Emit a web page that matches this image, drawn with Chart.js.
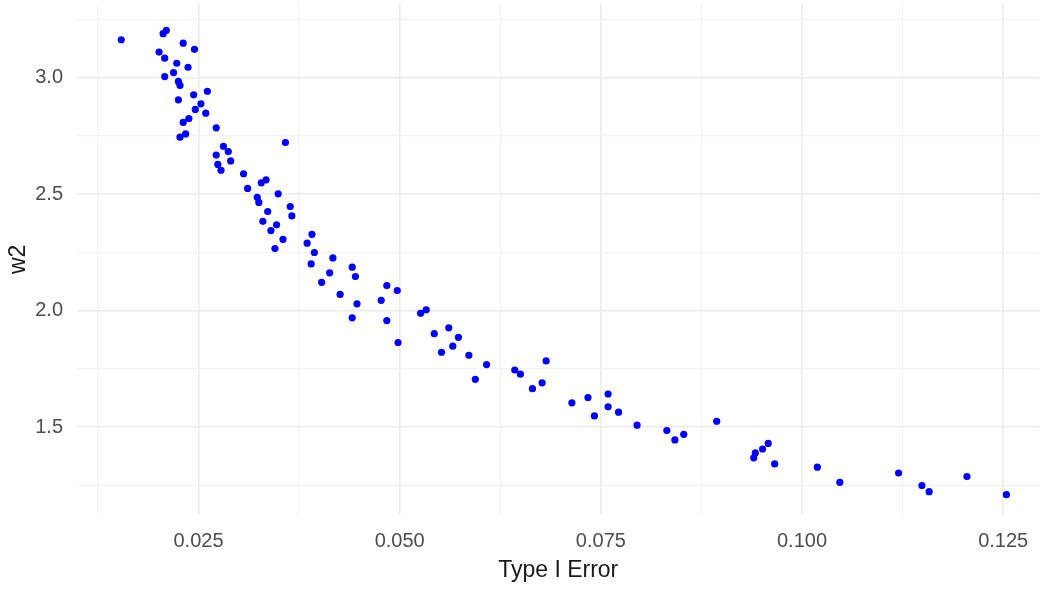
<!DOCTYPE html>
<html>
<head>
<meta charset="utf-8">
<script src="https://cdn.jsdelivr.net/npm/chart.js@4/dist/chart.umd.min.js"></script>
<style>
  html, body { margin: 0; padding: 0; background: #ffffff; }
  #wrap { width: 1043px; height: 589px; }
</style>
</head>
<body>
<div id="wrap"><canvas id="myChart" width="1043" height="589"></canvas></div>
<script>
// values
const typeIError = [
  0.0154, 0.0206, 0.0210, 0.0231, 0.0245, 0.0201, 0.0208, 0.0223, 0.0237, 0.0219,
  0.0208, 0.0225, 0.0227, 0.0261, 0.0244, 0.0225, 0.0253, 0.0246, 0.0259, 0.0238,
  0.0231, 0.0272, 0.0234, 0.0227, 0.0358, 0.0281, 0.0287, 0.0272, 0.0290, 0.0274,
  0.0278, 0.0306,
  0.0328, 0.0334, 0.0311, 0.0349, 0.0323, 0.0325, 0.0364, 0.0336, 0.0366, 0.0330,
  0.0347, 0.0340, 0.0391, 0.0355, 0.0385, 0.0345, 0.0394, 0.0417, 0.0390, 0.0441,
  0.0413, 0.0445, 0.0403, 0.0484, 0.0497, 0.0426, 0.0477, 0.0447, 0.0441, 0.0484,
  0.0498, 0.0526, 0.0533, 0.0543, 0.0561, 0.0573, 0.0566, 0.0552, 0.0586, 0.0608,
  0.0594, 0.0643, 0.0650, 0.0682, 0.0677, 0.0665, 0.0714, 0.0734, 0.0742, 0.0759,
  0.0759, 0.0772, 0.0795, 0.0832, 0.0842,
  0.0853, 0.0894, 0.0940, 0.0942, 0.0951, 0.0958, 0.0966, 0.1019, 0.1047, 0.1120,
  0.1149, 0.1158, 0.1205, 0.1254
];
const w2 = [
  3.162, 3.188, 3.202, 3.147, 3.121, 3.109, 3.083, 3.061, 3.044, 3.021,
  3.004, 2.983, 2.966, 2.941, 2.926, 2.904, 2.887, 2.863, 2.847, 2.824,
  2.807, 2.784, 2.758, 2.744, 2.721, 2.705, 2.682, 2.667, 2.642, 2.627,
  2.602, 2.587,
  2.548, 2.561, 2.524, 2.501, 2.486, 2.464, 2.446, 2.425, 2.406, 2.383,
  2.368, 2.343, 2.327, 2.305, 2.289, 2.266, 2.249, 2.226, 2.200, 2.186,
  2.162, 2.146, 2.121, 2.107, 2.086, 2.069, 2.044, 2.029, 1.969, 1.957,
  1.863, 1.988, 2.003, 1.901, 1.926, 1.885, 1.847, 1.821, 1.808, 1.768,
  1.705, 1.745, 1.727, 1.784, 1.690, 1.665, 1.604, 1.627, 1.548, 1.642,
  1.587, 1.564, 1.508, 1.485, 1.445,
  1.469, 1.525, 1.368, 1.389, 1.406, 1.430, 1.342, 1.328, 1.263, 1.303,
  1.249, 1.223, 1.288, 1.210
];

// ticks
const xMajor = [0.025, 0.05, 0.075, 0.1, 0.125];
const xMajorLabels = ['0.025', '0.050', '0.075', '0.100', '0.125'];
const xMinor = [0.0125, 0.0375, 0.0625, 0.0875, 0.1125];
const yMajor = [1.5, 2.0, 2.5, 3.0];
const yMajorLabels = ['1.5', '2.0', '2.5', '3.0'];
const yMinor = [1.25, 1.75, 2.25, 2.75, 3.25];

const FONT = '"Liberation Sans", Arial, sans-serif';

function findIdx(list, v) {
    return list.findIndex(m => Math.abs(m - v) < 1e-9);
}

const points = typeIError.map((x, i) => ({ x: x, y: w2[i] }));

const ctx = document.getElementById('myChart').getContext('2d');
const chart = new Chart(ctx, {
    type: 'scatter',
    data: {
        datasets: [{
            label: 'w2',
            data: points,
            backgroundColor: '#0000ff',
            borderWidth: 0,
            pointRadius: 3.6,
            pointHoverRadius: 3.6
        }]
    },
    options: {
        responsive: false,
        animation: false,
        events: [],
        layout: { padding: 0 },
        plugins: {
            legend: { display: false },
            tooltip: { enabled: false }
        },
        scales: {
            x: {
                type: 'linear',
                min: 0.0099,
                max: 0.1295,
                border: { display: false },
                afterBuildTicks: (scale) => {
                    scale.ticks = xMinor.concat(xMajor).sort((a, b) => a - b).map(v => ({ value: v }));
                },
                afterFit: (scale) => {
                    scale.height = 74;
                    scale.paddingLeft = 0;
                    scale.paddingRight = 0;
                },
                grid: {
                    drawTicks: false,
                    color: (c) => findIdx(xMajor, c.tick.value) >= 0 ? '#ebebeb' : '#f2f2f2',
                    lineWidth: (c) => findIdx(xMajor, c.tick.value) >= 0 ? 1.6 : 1.2
                },
                ticks: {
                    autoSkip: false,
                    maxRotation: 0,
                    padding: 14,
                    color: '#4d4d4d',
                    font: { family: FONT, size: 20 },
                    callback: (value) => {
                        const i = findIdx(xMajor, value);
                        return i >= 0 ? xMajorLabels[i] : '';
                    }
                },
                title: {
                    display: true,
                    text: 'Type I Error',
                    color: '#1a1a1a',
                    font: { family: FONT, size: 23 },
                    padding: { top: 0, bottom: 5 }
                }
            },
            y: {
                type: 'linear',
                min: 1.1228,
                max: 3.317,
                border: { display: false },
                afterBuildTicks: (scale) => {
                    scale.ticks = yMinor.concat(yMajor).sort((a, b) => a - b).map(v => ({ value: v }));
                },
                afterFit: (scale) => {
                    scale.width = 77;
                    scale.paddingTop = 0;
                    scale.paddingBottom = 0;
                },
                grid: {
                    drawTicks: false,
                    color: (c) => findIdx(yMajor, c.tick.value) >= 0 ? '#ebebeb' : '#f2f2f2',
                    lineWidth: (c) => findIdx(yMajor, c.tick.value) >= 0 ? 1.6 : 1.2
                },
                ticks: {
                    autoSkip: false,
                    padding: 14,
                    color: '#4d4d4d',
                    font: { family: FONT, size: 20 },
                    callback: (value) => {
                        const i = findIdx(yMajor, value);
                        return i >= 0 ? yMajorLabels[i] : '';
                    }
                },
                title: {
                    display: true,
                    text: 'w2',
                    color: '#1a1a1a',
                    font: { family: FONT, size: 23 },
                    padding: { top: 5, bottom: 0 }
                }
            }
        }
    }
});
</script>
</body>
</html>
